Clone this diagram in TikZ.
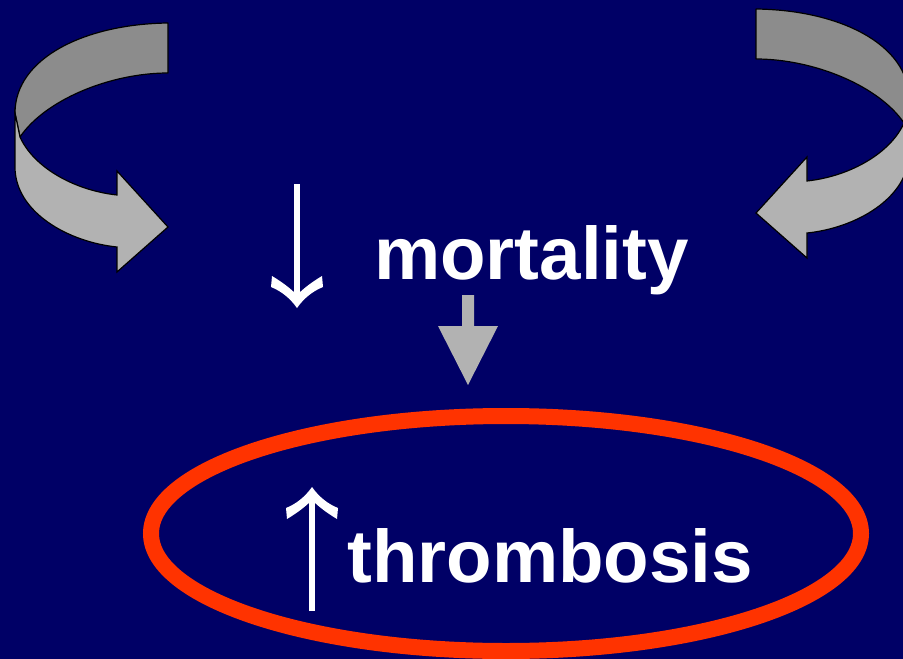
\documentclass[tikz,border=0pt]{standalone}
\usepackage{fontspec}
\setmainfont{Liberation Sans}
\usetikzlibrary{shapes.geometric,calc}
\definecolor{bgnavy}{HTML}{000066}
\definecolor{ribdark}{HTML}{8C8C8C}
\definecolor{riblight}{HTML}{B2B2B2}
\definecolor{ringred}{HTML}{FF3300}
\tikzset{
  ribback/.style={fill=ribdark, draw=black, line width=1.2pt, line join=round},
  ribfront/.style={fill=riblight, draw=black, line width=1.2pt, line join=miter},
  bigword/.style={text=white, font=\fontsize{74.5}{80}\selectfont\bfseries, inner sep=0pt, anchor=base west},
  thinarrow/.style={draw=white, line width=6.5pt},
  thinhead/.style={fill=white, draw=none},
  grayarrow/.style={fill=riblight, draw=none},
  ring/.style={draw=ringred, line width=16pt}
}
\begin{document}
\begin{tikzpicture}[x=1pt,y=-1pt]
\fill[bgnavy] (0,0) rectangle (903,659);
\useasboundingbox (0,0) rectangle (903,659);
\begin{scope}
\clip (0,0) rectangle (903,659);
% left curved ribbon arrow
\begin{scope}
\path[ribback] (168,23) .. controls (85,24) and (15,58) .. (15,113)
  -- (20,137) .. controls (45,100) and (110,73) .. (168,73) -- cycle;
\path[ribfront] (15,113) -- (15,167) .. controls (15,212) and (68,242) .. (117,247)
  -- (117,272) -- (168,227) -- (117,171) -- (117,195)
  .. controls (72,190) and (33,166) .. (20,137) -- cycle;
\end{scope}
% right curved ribbon arrow (mirror)
\begin{scope}[shift={(924,-14)}, xscale=-1]
\path[ribback] (168,23) .. controls (85,24) and (15,58) .. (15,113)
  -- (20,137) .. controls (45,100) and (110,73) .. (168,73) -- cycle;
\path[ribfront] (15,113) -- (15,167) .. controls (15,212) and (68,242) .. (117,247)
  -- (117,272) -- (168,227) -- (117,171) -- (117,195)
  .. controls (72,190) and (33,166) .. (20,137) -- cycle;
\end{scope}
% ellipse
\node[ring, ellipse, minimum width=710pt, minimum height=235pt, inner sep=0pt] (ring) at (506,533.5) {};
\end{scope}
% down arrow before mortality
\coordinate (dtop) at (297,184);
\coordinate (dtip) at (297,308);
\draw[thinarrow] (dtop) -- ($(dtip)+(0,-12)$);
\fill[thinhead] (dtip) .. controls (290,298) and (281,291) .. (271,287)
  -- (272,276) .. controls (282,282) and (290,288) .. (297,295)
  .. controls (304,288) and (312,282) .. (322,276) -- (323,287)
  .. controls (313,291) and (304,298) .. (dtip) -- cycle;
\node[bigword] (mort) at (374,279) {mortality};
% gray straight arrow
\fill[grayarrow] (462,295) -- (474,295) -- (474,326) -- (498,326) -- (468,385) -- (438,326) -- (462,326) -- cycle;
% up arrow before thrombosis
\coordinate (ubot) at (312,611);
\coordinate (utip) at (312,487);
\draw[thinarrow] (ubot) -- ($(utip)+(0,12)$);
\fill[thinhead] (utip) .. controls (305,497) and (296,504) .. (286,508)
  -- (287,519) .. controls (297,513) and (305,507) .. (312,500)
  .. controls (319,507) and (327,513) .. (337,519) -- (338,508)
  .. controls (328,504) and (319,497) .. (utip) -- cycle;
\node[bigword] (thromb) at (347,582) {thrombosis};
\end{tikzpicture}
\end{document}
